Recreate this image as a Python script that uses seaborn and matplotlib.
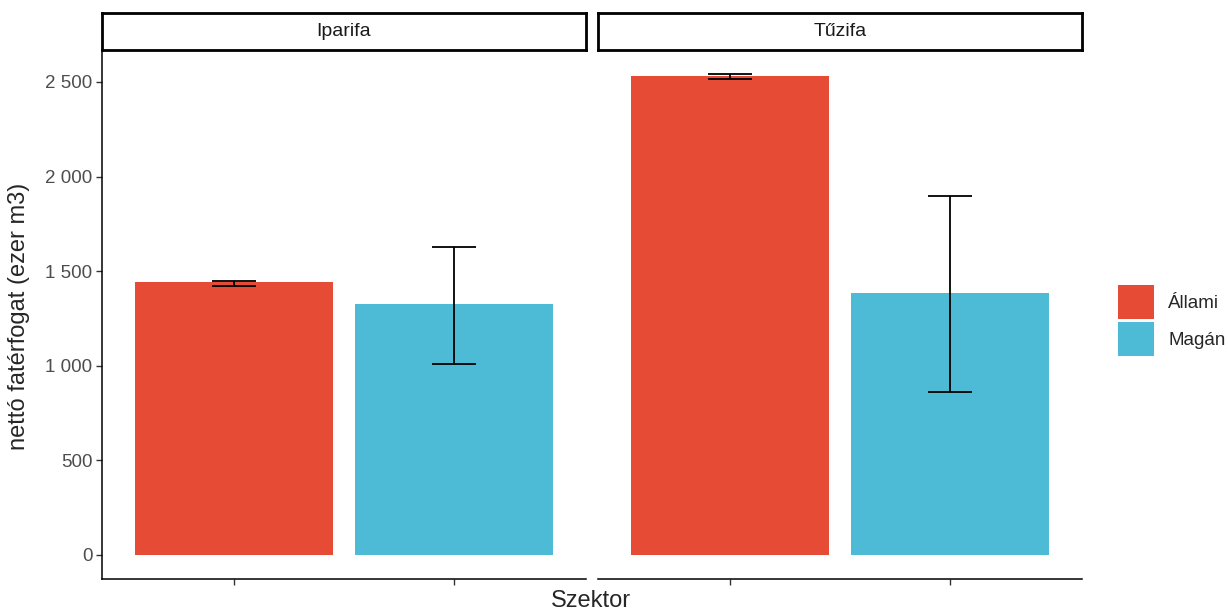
import numpy as np
import pandas as pd
import matplotlib
matplotlib.use('Agg')
import matplotlib.pyplot as plt
import seaborn as sns
from matplotlib.patches import Patch
from matplotlib.ticker import FuncFormatter

# adatok (leolvasva az ábráról)
fajta = ['Iparifa', 'Iparifa', 'Tűzifa', 'Tűzifa']
szektor = ['Állami', 'Magán', 'Állami', 'Magán']
atlag = [1445, 1325, 2530, 1383]
also = [1422, 1010, 2518, 861]
felso = [1450, 1630, 2540, 1897]
panelek = ['Iparifa', 'Tűzifa']
szinek = {'Állami': '#E64B35', 'Magán': '#4DBBD5'}

df = pd.DataFrame({'Fajta': fajta, 'Szektor': szektor, 'ertek': atlag,
                   'also': also, 'felso': felso})

sns.set_style('white')
plt.rcParams['font.family'] = ['Liberation Sans', 'DejaVu Sans']

fig = plt.figure(figsize=(12.28, 6.14), dpi=100)
lefts = [102 / 1228, 598 / 1228]
w = 484 / 1228
bottom = 35 / 614
h = 529 / 614
strip_h = 37 / 614

for i, p in enumerate(panelek):
    ax = fig.add_axes([lefts[i], bottom, w, h])
    sub = df[df.Fajta == p].reset_index(drop=True)
    sns.barplot(data=sub, x='Szektor', y='ertek', hue='Szektor', palette=szinek,
                order=['Állami', 'Magán'], width=0.9, saturation=1, legend=False,
                errorbar=None, linewidth=0, ax=ax)
    ax.errorbar(x=np.arange(len(sub)), y=sub.ertek,
                yerr=[sub.ertek - sub.also, sub.felso - sub.ertek],
                fmt='none', ecolor='black', elinewidth=1.3, capsize=15.8, capthick=1.3)
    ax.set_xlim(-0.6, 1.6)
    ax.set_ylim(-127, 2669)
    ax.set_xlabel('')
    ax.set_ylabel('')
    ax.set_xticks([0, 1])
    ax.set_xticklabels([])
    sns.despine(ax=ax, left=(i == 1))
    for s in ['left', 'bottom']:
        ax.spines[s].set_color('black')
        ax.spines[s].set_linewidth(1.1)
    ax.tick_params(axis='both', length=4, width=1, color='#333333',
                   labelcolor='#4D4D4D', labelsize=13.5, direction='out', pad=3)
    ax.tick_params(axis='x', bottom=True)
    if i == 0:
        ax.set_yticks([0, 500, 1000, 1500, 2000, 2500])
        ax.yaxis.set_major_formatter(FuncFormatter(lambda v, _: f"{int(v):,}".replace(',', ' ')))
        ax.tick_params(axis='y', left=True)
    else:
        ax.set_yticks([])

    sax = fig.add_axes([lefts[i], bottom + h, w, strip_h])
    sax.set_xticks([])
    sax.set_yticks([])
    for s in sax.spines.values():
        s.set_visible(True)
        s.set_color('black')
        s.set_linewidth(2)
    sax.text(0.5, 0.5, p, ha='center', va='center', fontsize=14, color='#1A1A1A',
             transform=sax.transAxes)

fig.text(591 / 1228, 1 - 601 / 614, 'Szektor', ha='center', va='center', fontsize=17)
fig.text(19 / 1228, 1 - 316 / 614, 'nettó fatérfogat (ezer m3)', ha='center', va='center',
         rotation=90, fontsize=17)

handles = [Patch(facecolor=szinek[k], edgecolor='none') for k in ['Állami', 'Magán']]
fig.legend(handles, ['Állami', 'Magán'], loc='upper left',
           bbox_to_anchor=(1118 / 1228, 1 - 285 / 614), frameon=False, borderpad=0,
           handlelength=1.92, handleheight=2.415, labelspacing=0.16, handletextpad=0.75,
           fontsize=13.5, borderaxespad=0)

fig.savefig('out.png', dpi=100)
